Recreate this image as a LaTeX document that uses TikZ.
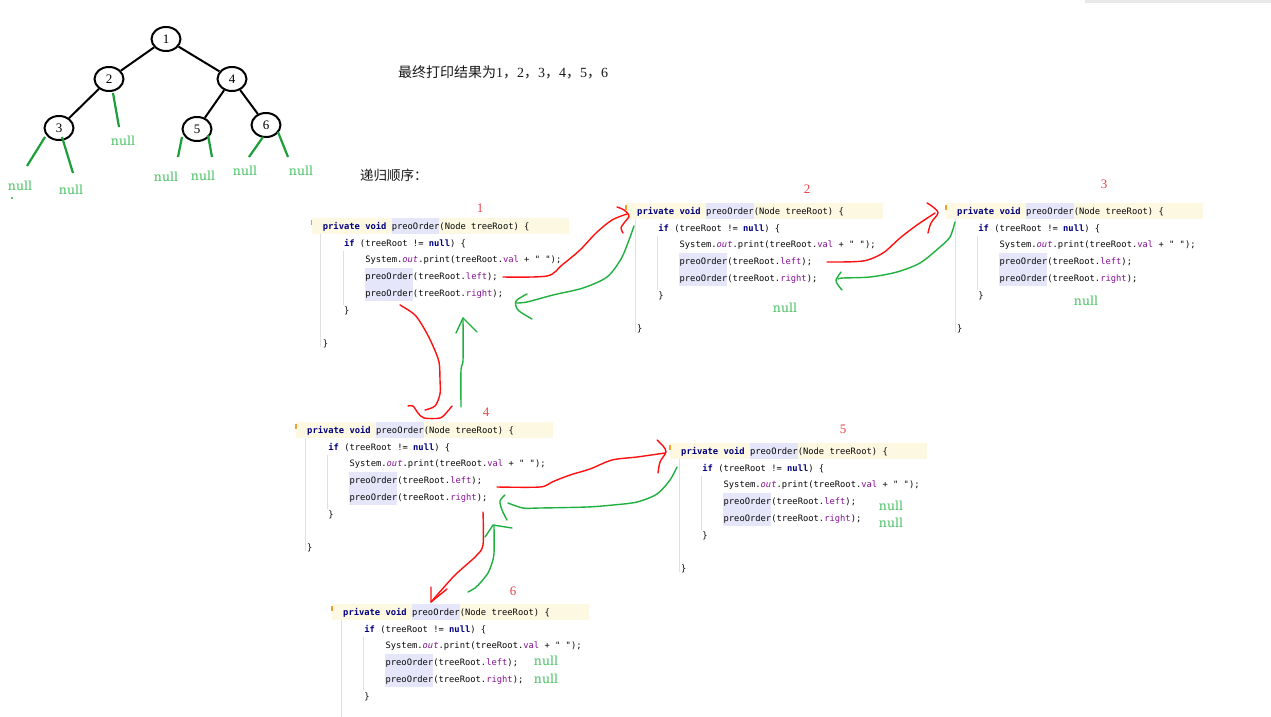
\documentclass[tikz,border=0pt]{standalone}
\usepackage{fontspec}
\setmainfont{Liberation Serif}
\setmonofont{DejaVu Sans Mono}
\newfontfamily\cjk{Noto Sans CJK SC}
\newfontfamily\nullfnt{DejaVu Serif}
\usetikzlibrary{shapes.geometric}
\definecolor{band}{HTML}{FDF8E2}
\definecolor{hil}{HTML}{E6E6FA}
\definecolor{guide}{HTML}{E0E0E0}
\definecolor{tickc}{HTML}{F0A030}
\definecolor{kw}{HTML}{000080}
\definecolor{fld}{HTML}{871094}
\definecolor{cblack}{HTML}{080808}
\definecolor{pred}{HTML}{FF1010}
\definecolor{pgreen}{HTML}{1FB040}
\definecolor{nullg}{HTML}{45C060}
\definecolor{numred}{HTML}{E84545}
\newcommand\kwd[1]{{\bfseries\color{kw}#1}}
\newcommand\fldc[1]{{\color{fld}#1}}
\tikzset{
  code/.style={anchor=base west, inner sep=0pt, text=cblack,
    font=\ttfamily\fontsize{8.8}{10}\selectfont},
  nulltxt/.style={inner sep=0pt, text=nullg, font=\nullfnt\fontsize{12.5}{13}\selectfont},
  numtxt/.style={inner sep=0pt, text=numred, font=\fontsize{13}{14}\selectfont},
  treenode/.style={ellipse, draw=black, line width=2pt, minimum width=29pt,
    minimum height=24pt, inner sep=0pt, font=\fontsize{13}{14}\selectfont},
  treeedge/.style={line width=2pt, black},
  nullline/.style={line width=2.2pt, pgreen!90!black},
  redpen/.style={pred, line width=1.4pt, line join=round, line cap=round},
  greenpen/.style={pgreen, line width=1.4pt, line join=round, line cap=round},
  guideline/.style={guide, line width=0.8pt}
}
\newcommand\codeblock[3]{%
\begin{scope}[shift={(#2,#3)}]
  \fill[band] (-11,-8) rectangle (246,8);
  \fill[hil] (68.9,-8) rectangle (116.6,8);
  \fill[hil] (42.4,42.4) rectangle (90.1,75.4);
  \draw[guideline] (-2,8) -- (-2,121);
  \draw[guideline] (20.6,25) -- (20.6,79);
  \draw[tickc, line width=1.2pt] (-11,-6) -- (-11,-1);
  \node[code] (#1-l1) at (0,3.2) {\kwd{private void} preoOrder(Node treeRoot) \{};
  \node[code] (#1-l2) at (21.2,20.0) {\kwd{if} (treeRoot != \kwd{null}) \{};
  \node[code] (#1-l3) at (42.4,36.8) {System.\fldc{\itshape out}.print(treeRoot.\fldc{val} + " ");};
  \node[code] (#1-l4) at (42.4,53.6) {preoOrder(treeRoot.\fldc{left});};
  \node[code] (#1-l5) at (42.4,70.4) {preoOrder(treeRoot.\fldc{right});};
  \node[code] (#1-l6) at (21.2,87.2) {\}};
\end{scope}}
\begin{document}
\begin{tikzpicture}[x=1pt,y=-1pt]
\fill[white] (0,0) rectangle (1271,717);
\path[use as bounding box] (0,0) rectangle (1271,717);
\clip (0,0) rectangle (1271,717);
\fill[black!9] (1085,0) rectangle (1271,3.5);

% ---------- tree ----------
\node[treenode] (n1) at (166,39) {1};
\node[treenode] (n2) at (109,79) {2};
\node[treenode] (n4) at (232,79) {4};
\node[treenode] (n3) at (59,128) {3};
\node[treenode] (n5) at (197,129) {5};
\node[treenode] (n6) at (266,125) {6};
\draw[treeedge] (n1) -- (n2);
\draw[treeedge] (n1) -- (n4);
\draw[treeedge] (n2) -- (n3);
\draw[treeedge] (n4) -- (n5);
\draw[treeedge] (n4) -- (n6);

\node[nulltxt] (t3l) at (20,186) {null};
\node[nulltxt] (t3r) at (71,190) {null};
\node[nulltxt] (t2r) at (123,141) {null};
\node[nulltxt] (t5l) at (166,177) {null};
\node[nulltxt] (t5r) at (203,176) {null};
\node[nulltxt] (t6l) at (245,171) {null};
\node[nulltxt] (t6r) at (301,171) {null};
\coordinate (g3la) at (45,137); \coordinate (g3lb) at (27,166);
\coordinate (g3ra) at (62,137); \coordinate (g3rb) at (73,173);
\coordinate (g2a) at (113,93);  \coordinate (g2b) at (119,127);
\coordinate (g5la) at (182,137); \coordinate (g5lb) at (178,157);
\coordinate (g5ra) at (208,135); \coordinate (g5rb) at (212,157);
\coordinate (g6la) at (263,137); \coordinate (g6lb) at (249,157);
\coordinate (g6ra) at (278,132); \coordinate (g6rb) at (288,157);
\draw[nullline] (g3la) -- (g3lb);
\draw[nullline] (g3ra) -- (g3rb);
\draw[nullline] (g2a) -- (g2b);
\draw[nullline] (g5la) -- (g5lb);
\draw[nullline] (g5ra) -- (g5rb);
\draw[nullline] (g6la) -- (g6lb);
\draw[nullline] (g6ra) -- (g6rb);
\fill[pgreen] (12,198) circle (1.2);

% ---------- headings ----------
\node[anchor=west, inner sep=0pt, text=black!90, font=\fontsize{14}{16}\selectfont] (res) at (398,72)
  {{\cjk 最终打印结果为}1{\cjk ，}2{\cjk ，}3{\cjk ，}4{\cjk ，}5{\cjk ，}6};
\node[anchor=west, inner sep=0pt, text=black!90, font=\cjk\fontsize{13.5}{15}\selectfont] (ord) at (360,175)
  {递归顺序：};

% ---------- code blocks ----------
\codeblock{b1}{322.7}{226}
\codeblock{b2}{637}{211}
\codeblock{b3}{957}{211}
\codeblock{b4}{307}{430}
\codeblock{b5}{681}{451}
\codeblock{b6}{343}{612}
\node[code] (b1-l7) at (322.7,346.2) {\}};
\node[code] (b2-l7) at (637,331.2) {\}};
\node[code] (b3-l7) at (957,331.2) {\}};
\node[code] (b4-l7) at (307,550.2) {\}};
\node[code] (b5-l7) at (681,571.2) {\}};

\node[numtxt] (k1) at (480,208) {1};
\node[numtxt] (k2) at (807,189) {2};
\node[numtxt] (k3) at (1104,184) {3};
\node[numtxt] (k4) at (486,412) {4};
\node[numtxt] (k5) at (843,429) {5};
\node[numtxt] (k6) at (513,591) {6};

\node[nulltxt] (u2) at (785,308) {null};
\node[nulltxt] (u3) at (1086,301) {null};
\node[nulltxt] (u5a) at (891,506) {null};
\node[nulltxt] (u5b) at (891,523) {null};
\node[nulltxt] (u6a) at (546,661) {null};
\node[nulltxt] (u6b) at (546,679) {null};

% ---------- hand drawn arrows ----------
% 1 -> 2
\coordinate (As) at (503,277); \coordinate (Ae) at (627,214);
\draw[redpen] plot[smooth, tension=0.5] coordinates {(As) (547,276) (562,265) (580,250) (596,233) (612,220) (Ae)};
\draw[redpen] plot[smooth, tension=0.5] coordinates {(617,207) (624,210) (629,216) (624,223) (621,228) (623,233)};
% 2 -> 1
\coordinate (Bs) at (634,226); \coordinate (Be) at (516,303);
\draw[greenpen] plot[smooth, tension=0.5] coordinates {(Bs) (629,240) (621,259) (607,277) (583,288) (553,295) (527,302) (Be)};
\draw[greenpen] plot[smooth, tension=0.5] coordinates {(527,294) (516,301) (518,310) (532,319)};
% 2 -> 3
\coordinate (Cs) at (827,262); \coordinate (Ce) at (935,213);
\draw[redpen] plot[smooth, tension=0.5] coordinates {(Cs) (863,261) (883,253) (900,238) (917,225) (Ce)};
\draw[redpen] plot[smooth, tension=0.5] coordinates {(927,203) (933,207) (938,213) (931,223) (928,233)};
% 3 -> 2
\coordinate (Ds) at (955,222); \coordinate (De) at (838,279);
\draw[greenpen] plot[smooth, tension=0.5] coordinates {(Ds) (950,237) (940,247) (920,263) (897,272) (870,277) (843,278) (De)};
\draw[greenpen] plot[smooth, tension=0.5] coordinates {(841,272) (836,280) (838,285) (842,290)};
% 1 -> 4
\coordinate (Es) at (400,305); \coordinate (Ee) at (425,410);
\draw[redpen] plot[smooth, tension=0.5] coordinates {(Es) (415,315) (425,330) (433,346) (439,362) (440,380) (440,394) (435,406) (Ee)};
\draw[redpen] plot[smooth, tension=0.5] coordinates {(408,406) (413,406) (418,413) (424,418) (440,418) (447,412) (452,406)};
% 4 -> 1
\coordinate (Fs) at (461,407); \coordinate (Fe) at (463,318);
\draw[greenpen] plot[smooth, tension=0.5] coordinates {(Fs) (461,370) (463,360) (Fe)};
\draw[greenpen] (456,333) -- (463,318) -- (477,332);
% 4 -> 5
\coordinate (Gs) at (497,487); \coordinate (Ge) at (665,453);
\draw[redpen] plot[smooth, tension=0.5] coordinates {(Gs) (540,487) (552,482) (570,475) (590,469) (612,460) (637,457) (Ge)};
\draw[redpen] plot[smooth, tension=0.5] coordinates {(657,440) (663,446) (666,452) (660,462) (658,473)};
% 5 -> 4
\coordinate (Hs) at (677,467); \coordinate (He) at (508,503);
\draw[greenpen] plot[smooth, tension=0.5] coordinates {(Hs) (670,480) (657,494) (637,502) (613,505) (587,507) (540,508) (523,508) (He)};
\draw[greenpen] plot[smooth, tension=0.5] coordinates {(505,495) (500,501) (502,510) (507,520)};
% 4 -> 6
\coordinate (Is) at (483,512); \coordinate (Ie) at (431,602);
\draw[redpen] plot[smooth, tension=0.5] coordinates {(Is) (483,545) (476,556) (465,566) (455,575) (445,586) (Ie)};
\draw[redpen] (431,587) -- (431,602) -- (447,589);
% 6 -> 4
\coordinate (Js) at (468,592); \coordinate (Je) at (494,526);
\draw[greenpen] plot[smooth, tension=0.5] coordinates {(Js) (475,588) (481,582) (488,573) (492,563) (494,553) (Je)};
\draw[greenpen] (485,537) -- (493,525) -- (512,528);
\end{tikzpicture}
\end{document}
